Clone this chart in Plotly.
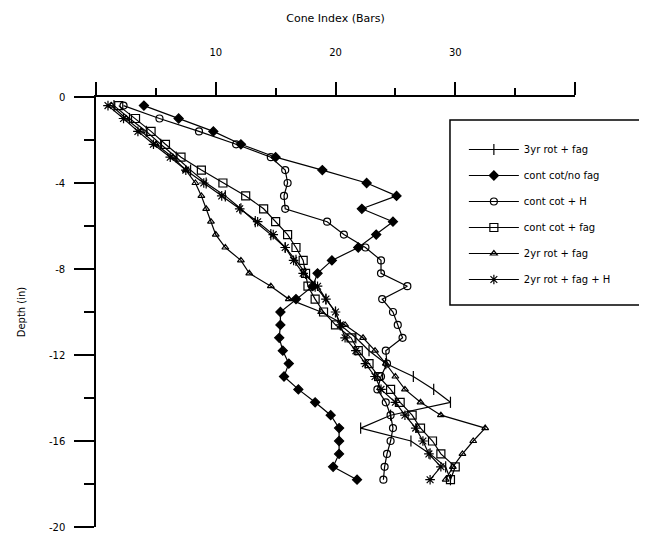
import plotly.graph_objects as go

# Depth (in) of each reading
depth = [-0.4, -1.0, -1.6, -2.2, -2.8, -3.4, -4.0, -4.6, -5.2, -5.8,
         -6.4, -7.0, -7.6, -8.2, -8.8, -9.4, -10.0, -10.6, -11.2, -11.8,
         -12.4, -13.0, -13.6, -14.2, -14.8, -15.4, -16.0, -16.6, -17.2, -17.8]

# Cone index (Bars) per treatment
rot3_fag = [1.5, 2.8, 4.2, 5.4, 6.7, 7.9, 9.2, 10.8, 12.1, 13.3, 14.6, 15.8, 16.7, 17.5, 18.3,
            19.2, 20.0, 20.4, 21.7, 22.8, 24.2, 26.5, 28.2, 29.6, 24.6, 22.1, 26.3, 27.9, 29.2, 29.6]
cont_nofag = [4.0, 6.9, 9.8, 12.1, 15.0, 18.9, 22.6, 25.1, 22.2, 24.8, 23.4, 21.9, 19.7, 18.5, 18.1,
              16.7, 15.4, 15.4, 15.3, 15.6, 16.1, 15.7, 16.9, 18.3, 19.6, 20.3, 20.3, 20.3, 19.8, 21.8]
cont_h = [2.3, 5.3, 8.6, 11.7, 14.6, 15.8, 16.0, 15.7, 15.8, 19.3, 20.7, 22.5, 23.8, 23.8, 26.0,
          23.9, 24.8, 25.2, 25.6, 24.2, 24.3, 23.8, 23.5, 24.2, 24.6, 24.8, 24.6, 24.3, 24.1, 24.0]
cont_fag = [1.9, 3.3, 4.6, 5.8, 7.1, 8.8, 10.6, 12.5, 14.0, 15.0, 16.0, 16.7, 17.3, 17.5, 17.7,
            18.3, 19.0, 20.0, 21.3, 21.9, 22.8, 23.6, 24.6, 25.4, 26.4, 27.1, 28.1, 28.8, 30.0, 29.6]
rot2_fag = [1.3, 2.5, 3.8, 5.0, 6.4, 7.5, 8.3, 8.8, 9.2, 9.6, 10.0, 10.8, 12.1, 12.8, 14.6,
            16.1, 18.8, 20.8, 22.3, 23.3, 24.2, 25.0, 25.8, 27.1, 28.8, 32.5, 31.5, 30.6, 29.8, 29.2]
rot2_fag_h = [1.0, 2.3, 3.5, 4.8, 6.2, 7.5, 9.0, 10.5, 12.0, 13.5, 14.8, 15.8, 16.5, 17.3, 18.5,
              19.2, 20.0, 20.4, 20.8, 21.7, 22.5, 23.3, 23.8, 25.0, 25.8, 26.7, 27.3, 27.8, 28.8, 27.9]

series_names = ["3yr rot + fag", "cont cot/no fag", "cont cot + H",
                "cont cot + fag", "2yr rot + fag", "2yr rot + fag + H"]
series_values = [rot3_fag, cont_nofag, cont_h, cont_fag, rot2_fag, rot2_fag_h]

x_tick_vals = [0, 10, 20, 30, 40]
x_tick_text = ["", "10", "20", "30", ""]
y_tick_vals = [0, -4, -8, -12, -16, -20]
y_tick_text = ["0", "-4", "-8", "-12", "-16", "-20"]

symbols = ["line-ns-open", "diamond", "circle-open", "square-open", "triangle-up-open", "asterisk-open"]
sizes = [8, 7, 7, 8, 6, 8]

fig = go.Figure()
for i, (name, vals) in enumerate(zip(series_names, series_values)):
    fig.add_trace(go.Scatter(
        x=vals, y=depth, name=name, mode="lines+markers",
        legendgroup=str(i),
        line=dict(color="black", width=1.2),
        marker=dict(symbol=symbols[i], size=sizes[i], color="black",
                    line=dict(color="black", width=1.2)),
    ))

FAM = "DejaVu Sans, Liberation Sans, sans-serif"
font = dict(family=FAM, size=10, color="black")

# Legend frame (drawn as a paper-referenced rectangle)
fig.add_shape(type="rect", xref="paper", yref="paper",
              x0=0.739, x1=1.142, y0=0.516, y1=0.9465,
              line=dict(color="black", width=1.5), fillcolor="rgba(0,0,0,0)", layer="above")

fig.update_layout(
    width=639, height=532,
    margin=dict(l=88, r=72, t=89, b=13),
    paper_bgcolor="white", plot_bgcolor="white",
    font=font,
    showlegend=True,
    legend=dict(x=0.768, y=0.9116, xanchor="left", yanchor="top",
                bgcolor="rgba(255,255,255,0)", borderwidth=0,
                font=dict(family=FAM, size=10, color="black"),
                tracegroupgap=7, itemwidth=50),
    xaxis=dict(
        side="top", range=[0, 40], showgrid=False, zeroline=False,
        showline=True, linecolor="black", linewidth=1.5,
        ticks="outside", ticklen=13, tickwidth=1.5, tickcolor="black",
        tickvals=x_tick_vals, ticktext=x_tick_text, ticklabelstandoff=22,
        tickfont=dict(family=FAM, size=10, color="black"),
        minor=dict(ticks="outside", ticklen=7, tickwidth=1.5, tickcolor="black", dtick=5, showgrid=False),
        title=dict(text="Cone Index (Bars)", standoff=22, font=dict(family=FAM, size=11, color="black")),
        automargin=False,
    ),
    yaxis=dict(
        range=[-20, 0], showgrid=False, zeroline=False,
        showline=True, linecolor="black", linewidth=1.5,
        ticks="outside", ticklen=20, tickwidth=1.5, tickcolor="black",
        tickvals=y_tick_vals, ticktext=y_tick_text, ticklabelstandoff=7,
        tickfont=dict(family=FAM, size=10, color="black"),
        minor=dict(ticks="outside", ticklen=10, tickwidth=1.5, tickcolor="black", dtick=2, showgrid=False),
        title=dict(text="Depth (in)", standoff=21, font=dict(family=FAM, size=10, color="black")),
        automargin=False,
    ),
)

fig.write_html("out.html")
